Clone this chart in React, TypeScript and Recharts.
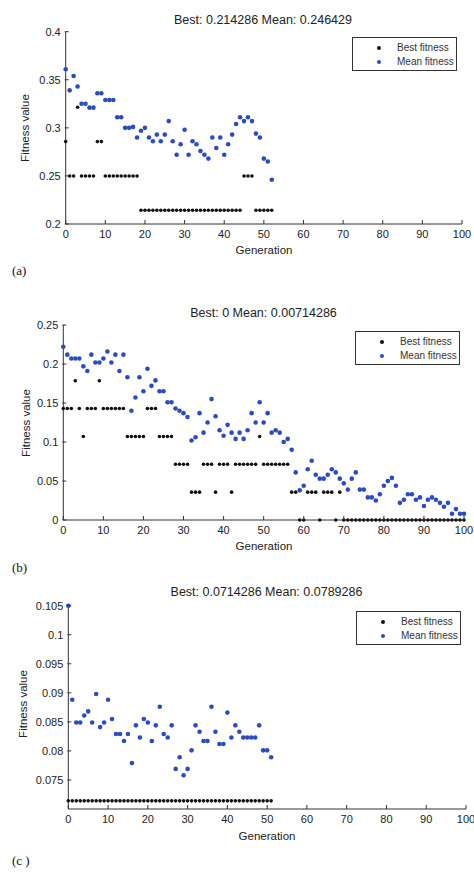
import React from "react";
import { ScatterChart, Scatter, XAxis, YAxis, Legend } from "recharts";

const bestA = [
  0.2857, 0.25, 0.25, 0.3214, 0.25, 0.25, 0.25, 0.25, 0.2857, 0.2857,
  0.25, 0.25, 0.25, 0.25, 0.25, 0.25, 0.25, 0.25, 0.25, 0.2143,
  0.2143, 0.2143, 0.2143, 0.2143, 0.2143, 0.2143, 0.2143, 0.2143, 0.2143, 0.2143,
  0.2143, 0.2143, 0.2143, 0.2143, 0.2143, 0.2143, 0.2143, 0.2143, 0.2143, 0.2143,
  0.2143, 0.2143, 0.2143, 0.2143, 0.2143, 0.25, 0.25, 0.25, 0.2143, 0.2143,
  0.2143, 0.2143, 0.2143,
];
const meanA = [
  0.361, 0.339, 0.354, 0.343, 0.325, 0.325, 0.321, 0.321, 0.336, 0.336,
  0.329, 0.329, 0.329, 0.311, 0.311, 0.3, 0.3, 0.301, 0.29, 0.297,
  0.3, 0.29, 0.286, 0.293, 0.286, 0.293, 0.307, 0.286, 0.272, 0.283,
  0.298, 0.272, 0.286, 0.283, 0.276, 0.272, 0.268, 0.29, 0.279, 0.29,
  0.272, 0.283, 0.293, 0.304, 0.311, 0.307, 0.311, 0.307, 0.294, 0.29,
  0.268, 0.265, 0.246,
];

const bestB = [
  0.1429, 0.1429, 0.1429, 0.1786, 0.1429, 0.1071, 0.1429, 0.1429, 0.1429, 0.1786,
  0.1429, 0.1429, 0.1429, 0.1429, 0.1429, 0.1429, 0.1071, 0.1071, 0.1071, 0.1071,
  0.1071, 0.1429, 0.1429, 0.1429, 0.1071, 0.1071, 0.1071, 0.1071, 0.0714, 0.0714,
  0.0714, 0.0714, 0.0357, 0.0357, 0.0357, 0.0714, 0.0714, 0.0714, 0.0357, 0.0714,
  0.0714, 0.0714, 0.0357, 0.0714, 0.0714, 0.0714, 0.0714, 0.0714, 0.0714, 0.1071,
  0.0714, 0.0714, 0.0714, 0.0714, 0.0714, 0.0714, 0.0714, 0.0357, 0.0357, 0,
  0, 0.0357, 0.0357, 0.0357, 0, 0.0357, 0.0357, 0.0357, 0, 0.0357,
  0, 0, 0, 0, 0, 0, 0, 0, 0, 0,
  0, 0, 0, 0, 0, 0, 0, 0, 0, 0,
  0, 0, 0, 0, 0, 0, 0, 0, 0, 0,
  0,
];
const meanB = [
  0.222, 0.212, 0.207, 0.207, 0.207, 0.197, 0.191, 0.212, 0.202, 0.202,
  0.207, 0.216, 0.202, 0.212, 0.191, 0.212, 0.183, 0.14, 0.157, 0.183,
  0.165, 0.194, 0.172, 0.179, 0.165, 0.165, 0.151, 0.151, 0.143, 0.14,
  0.137, 0.132, 0.102, 0.106, 0.137, 0.112, 0.125, 0.155, 0.133, 0.115,
  0.108, 0.122, 0.112, 0.104, 0.112, 0.104, 0.115, 0.137, 0.125, 0.151,
  0.125, 0.137, 0.112, 0.115, 0.112, 0.1, 0.104, 0.09, 0.061, 0.038,
  0.044, 0.065, 0.076, 0.058, 0.053, 0.053, 0.058, 0.065, 0.061, 0.053,
  0.047, 0.039, 0.053, 0.061, 0.039, 0.039, 0.029, 0.029, 0.025, 0.033,
  0.044, 0.05, 0.054, 0.044, 0.022, 0.026, 0.033, 0.033, 0.026, 0.029,
  0.018, 0.026, 0.029, 0.026, 0.022, 0.017, 0.022, 0.008, 0.014, 0.008,
  0.008,
];

const bestC = [
  0.0714, 0.0714, 0.0714, 0.0714, 0.0714, 0.0714, 0.0714, 0.0714, 0.0714, 0.0714,
  0.0714, 0.0714, 0.0714, 0.0714, 0.0714, 0.0714, 0.0714, 0.0714, 0.0714, 0.0714,
  0.0714, 0.0714, 0.0714, 0.0714, 0.0714, 0.0714, 0.0714, 0.0714, 0.0714, 0.0714,
  0.0714, 0.0714, 0.0714, 0.0714, 0.0714, 0.0714, 0.0714, 0.0714, 0.0714, 0.0714,
  0.0714, 0.0714, 0.0714, 0.0714, 0.0714, 0.0714, 0.0714, 0.0714, 0.0714, 0.0714,
  0.0714, 0.0714,
];
const meanC = [
  0.105, 0.0888, 0.0849, 0.0849, 0.0861, 0.0868, 0.0849, 0.0898, 0.0841, 0.0849,
  0.0888, 0.0855, 0.0829, 0.0829, 0.0817, 0.0829, 0.0779, 0.0844, 0.0823, 0.0855,
  0.0849, 0.0817, 0.0844, 0.0876, 0.0829, 0.0823, 0.0844, 0.0769, 0.0789, 0.0758,
  0.0769, 0.0801, 0.0844, 0.0833, 0.0817, 0.0817, 0.0876, 0.0833, 0.0812, 0.0812,
  0.0866, 0.0823, 0.0844, 0.0833, 0.0823, 0.0823, 0.0823, 0.0823, 0.0844, 0.0801,
  0.0801, 0.0789,
];

const xTicks = [0, 10, 20, 30, 40, 50, 60, 70, 80, 90, 100];
const yTicksA = [0.2, 0.25, 0.3, 0.35, 0.4];
const yTicksB = [0, 0.05, 0.1, 0.15, 0.2, 0.25];
const yTicksC = [0.075, 0.08, 0.085, 0.09, 0.095, 0.1, 0.105];
const titles = [
  "Best: 0.214286 Mean: 0.246429",
  "Best: 0 Mean: 0.00714286",
  "Best: 0.0714286 Mean: 0.0789286",
];
const seriesNames = ["Best fitness", "Mean fitness"];
const panelLabels = ["(a)", "(b)", "(c )"];

const FONT = "'Liberation Sans', Arial, sans-serif";
const AXIS = "#333";
const BLACK = "#111";
const BLUE = "#2b4cc0";
const GAP = 5;

const toPoints = (arr: number[]) => arr.map((v, i) => ({ gen: i, value: v }));

const XTick = (props: any) => {
  const { x, y, payload } = props;
  return (
    <g>
      <line x1={x} x2={x} y1={y - GAP} y2={y - GAP - 4} stroke={AXIS} />
      <text x={x} y={y} dy={9} textAnchor="middle" fontFamily={FONT} fontSize={11} fill="#222">
        {payload.value}
      </text>
    </g>
  );
};

const YTick = (props: any) => {
  const { x, y, payload } = props;
  return (
    <g>
      <line x1={x + GAP - 1} x2={x + GAP + 3} y1={y} y2={y} stroke={AXIS} />
      <text x={x} y={y} dy={4} textAnchor="end" fontFamily={FONT} fontSize={11} fill="#222">
        {payload.value}
      </text>
    </g>
  );
};

const LegendBox = () => (
  <div
    style={{
      width: 105,
      height: 34,
      border: "1px solid #333",
      background: "#fff",
      boxSizing: "border-box",
      position: "relative",
      fontFamily: FONT,
      fontSize: 10,
      color: "#333",
    }}
  >
    {seriesNames.map((n, i) => (
      <div key={n} style={{ position: "absolute", left: 0, top: 3 + i * 14, height: 14, width: "100%" }}>
        <span
          style={{
            position: "absolute",
            left: 24,
            top: 5,
            width: 4,
            height: 4,
            borderRadius: 2,
            background: i === 0 ? BLACK : BLUE,
          }}
        />
        <span style={{ position: "absolute", left: 44, top: 0, lineHeight: "14px" }}>{n}</span>
      </div>
    ))}
  </div>
);

const bestDot = (p: any) => <circle cx={p.cx} cy={p.cy} r={1.8} fill={BLACK} />;
const meanDot = (p: any) => <circle cx={p.cx} cy={p.cy} r={2.3} fill={BLUE} />;

interface PanelProps {
  top: number;
  height: number;
  plotLeft: number;
  plotRight: number;
  plotTop: number;
  plotBottom: number;
  yDomain: [number, number];
  yTicks: number[];
  best: number[];
  mean: number[];
  legendLeft: number;
  legendTop: number;
}

const Panel = (p: PanelProps) => (
  <div style={{ position: "absolute", left: 0, top: p.top }}>
    <ScatterChart
      width={474}
      height={p.height}
      margin={{ top: p.plotTop - p.top, right: 474 - p.plotRight, bottom: 0, left: 0 }}
    >
      <XAxis
        type="number"
        dataKey="gen"
        domain={[0, 100]}
        ticks={xTicks}
        interval={0}
        height={p.top + p.height - p.plotBottom}
        tickLine={false}
        tickSize={0}
        tickMargin={GAP}
        axisLine={{ stroke: AXIS }}
        tick={<XTick />}
      />
      <YAxis
        type="number"
        dataKey="value"
        domain={p.yDomain}
        ticks={p.yTicks}
        interval={0}
        width={p.plotLeft}
        tickLine={false}
        tickSize={0}
        tickMargin={GAP}
        axisLine={{ stroke: AXIS }}
        tick={<YTick />}
      />
      <Legend
        layout="horizontal"
        verticalAlign="middle"
        align="center"
        wrapperStyle={{ position: "absolute", left: p.legendLeft, top: p.legendTop - p.top, width: 105 }}
        content={() => <LegendBox />}
      />
      <Scatter name={seriesNames[0]} data={toPoints(p.best)} fill={BLACK} shape={bestDot} isAnimationActive={false} />
      <Scatter name={seriesNames[1]} data={toPoints(p.mean)} fill={BLUE} shape={meanDot} isAnimationActive={false} />
    </ScatterChart>
  </div>
);

const App = () => {
  const txt = { fontFamily: FONT, fill: "#222" } as const;
  return (
    <div style={{ position: "absolute", left: 0, top: 0, width: 474, height: 873, background: "#fff" }}>
      <Panel
        top={0} height={270} plotLeft={65.7} plotRight={462} plotTop={31.7} plotBottom={224}
        yDomain={[0.2, 0.4]} yTicks={yTicksA} best={bestA} mean={meanA} legendLeft={352} legendTop={37}
      />
      <Panel
        top={290} height={270} plotLeft={63.3} plotRight={464} plotTop={325} plotBottom={520}
        yDomain={[0, 0.25]} yTicks={yTicksB} best={bestB} mean={meanB} legendLeft={355} legendTop={331}
      />
      <Panel
        top={580} height={260} plotLeft={68.3} plotRight={466} plotTop={605.7} plotBottom={809}
        yDomain={[0.07, 0.105]} yTicks={yTicksC} best={bestC} mean={meanC} legendLeft={356} legendTop={611}
      />
      <svg width={474} height={873} style={{ position: "absolute", left: 0, top: 0, pointerEvents: "none" }}>
        <text x={263} y={23.5} textAnchor="middle" fontSize={12.5} {...txt}>{titles[0]}</text>
        <text x={263.5} y={317} textAnchor="middle" fontSize={12.5} {...txt}>{titles[1]}</text>
        <text x={266.5} y={595.5} textAnchor="middle" fontSize={12.5} {...txt}>{titles[2]}</text>

        <text transform="translate(29,128) rotate(-90)" textAnchor="middle" fontSize={11.5} {...txt}>Fitness value</text>
        <text transform="translate(30,423) rotate(-90)" textAnchor="middle" fontSize={11.5} {...txt}>Fitness value</text>
        <text transform="translate(27,704) rotate(-90)" textAnchor="middle" fontSize={11.5} {...txt}>Fitness value</text>

        <text x={264} y={254} textAnchor="middle" fontSize={11.5} {...txt}>Generation</text>
        <text x={264} y={550} textAnchor="middle" fontSize={11.5} {...txt}>Generation</text>
        <text x={267} y={840} textAnchor="middle" fontSize={11.5} {...txt}>Generation</text>

        <text x={12} y={275} fontSize={13} fontFamily="'Liberation Serif', serif" fill="#111">{panelLabels[0]}</text>
        <text x={12} y={572} fontSize={13} fontFamily="'Liberation Serif', serif" fill="#111">{panelLabels[1]}</text>
        <text x={12} y={865} fontSize={13} fontFamily="'Liberation Serif', serif" fill="#111">{panelLabels[2]}</text>
      </svg>
    </div>
  );
};

export default App;
